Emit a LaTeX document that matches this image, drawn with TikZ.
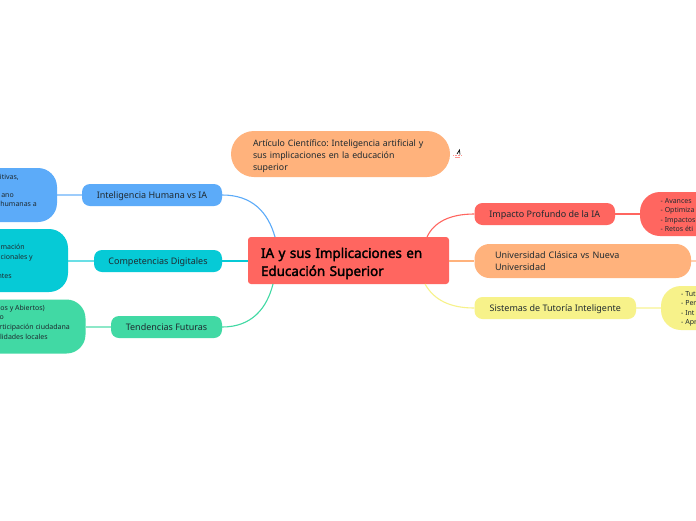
\documentclass[tikz,border=0pt]{standalone}
\usepackage{fontspec}
\setmainfont{Noto Sans}
\newfontfamily\rootfont{Noto Sans}[FakeBold=2.2]
\frenchspacing
\definecolor{cblue}{HTML}{5CABF9}
\definecolor{cteal}{HTML}{06CAD6}
\definecolor{cgreen}{HTML}{41D9A4}
\definecolor{corange}{HTML}{FFB27C}
\definecolor{cred}{HTML}{FF6660}
\definecolor{cyellow}{HTML}{F7F28A}
\definecolor{ink}{HTML}{1F2A30}
\tikzset{
 x=1pt,y=-1pt,
 boxbase/.style={inner ysep=0pt,text=ink,font=\frenchspacing\fontsize{9}{12}\selectfont,align=left},
 topic/.style={inner ysep=0pt,text=ink,font=\fontsize{9}{12}\selectfont,rounded corners=8pt,inner xsep=0pt,text height=6.5pt,text depth=0pt},
 leaf/.style={rounded corners=19pt,inner sep=0pt},
 leaftext/.style={text=ink,font=\fontsize{7}{9}\selectfont,inner sep=0pt},
 link/.style={line width=1.1pt},
 paler/.style={line width=1.6pt,opacity=.6},
}
\begin{document}
\begin{tikzpicture}
\useasboundingbox (0,0) rectangle (696,520);
\clip (0,0) rectangle (696,520);
\fill[white] (0,0) rectangle (696,520);
% leaf boxes
\node[leaf,fill=cblue,minimum width=157pt,minimum height=54pt] (lblue) at (-21.5,195) {};
\node[leaf,fill=cteal,minimum width=168pt,minimum height=63pt] (lteal) at (-16,260.5) {};
\node[leaf,fill=cgreen,minimum width=186pt,minimum height=54pt] (lgreen) at (-7.5,326.5) {};
\node[leaf,fill=cred,rounded corners=20pt,minimum width=160pt,minimum height=44pt] (lred) at (720,214) {};
\node[leaf,fill=cyellow,rounded corners=20pt,minimum width=120pt,minimum height=44pt] (lyellow) at (721,308) {};
% topics
\node[topic,fill=cblue,minimum width=140pt,minimum height=22pt] (tblue) at (152,195) {Inteligencia Humana vs IA};
\node[topic,fill=cteal,minimum width=128pt,minimum height=22pt] (tteal) at (158,261) {Competencias Digitales};
\node[topic,fill=cgreen,minimum width=111pt,minimum height=22pt] (tgreen) at (166.5,327) {Tendencias Futuras};
\node[topic,fill=cred,minimum width=140.5pt,minimum height=22pt] (tred) at (544.75,214) {Impacto Profundo de la IA};
\node[boxbase,fill=corange,rounded corners=15pt,inner xsep=20.5pt,text width=175.5pt,minimum height=34pt] (torange) at (582.75,261) {Universidad Clásica vs Nueva\\Universidad};
\node[topic,fill=cyellow,minimum width=161.5pt,minimum height=22pt] (tyellow) at (555.25,308) {Sistemas de Tutoría Inteligente};
% root and article
\node[boxbase,fill=cred,rounded corners=3pt,inner xsep=13pt,text width=175pt,minimum height=47pt,text=black,font=\fontsize{13.4}{18}\selectfont\rootfont] (root) at (348.5,260.5) {\rule{0pt}{16pt}IA y sus Implicaciones en\\Educación Superior};
\node[boxbase,fill=corange,rounded corners=23pt,inner xsep=22pt,text width=175pt,minimum height=46pt,font=\fontsize{8.8}{12.2}\selectfont] (article) at (340.5,154) {\rule{0pt}{10.7pt}Artículo Científico: Inteligencia artificial y\\sus implicaciones en la educación\\superior};
% anchor points on the root
\coordinate (rtl) at (275,237);
\coordinate (rbl) at (273,284);
\coordinate (rtr) at (427,237);
\coordinate (rbr) at (425,284);
\coordinate (lorangeedge) at (696,261);
% connectors
\draw[link,cblue] (tblue.east) .. controls (252,195) and (268,212) .. (rtl);
\draw[link,cgreen] (tgreen.east) .. controls (252,327) and (267,308) .. (rbl);
\draw[link,cred] (tred.west) .. controls (450,214) and (434,222) .. (rtr);
\draw[link,cyellow] (tyellow.west) .. controls (450,308) and (434,300) .. (rbr);
\draw[paler,cteal,opacity=1] (root.west |- tteal.east) -- (tteal.east);
\draw[paler,corange,opacity=1] (root.east |- torange.west) -- (torange.west);
\draw[paler,cblue] (lblue.east) -- (tblue.west);
\draw[paler,cteal] (lteal.east |- tteal.west) -- (tteal.west);
\draw[paler,cgreen] (lgreen.east |- tgreen.west) -- (tgreen.west);
\draw[link,cred] (tred.east) -- (lred.west);
\draw[paler,cyellow] (tyellow.east) -- (lyellow.west);
\draw[paler,corange] (torange.east) -- (lorangeedge);
% leaf texts: only what the reference shows inside the page
\node[leaftext,anchor=base east] (b1) at (19,179.5) {itivas,};
\node[leaftext,anchor=base east] (b2) at (14,197.5) {ano};
\node[leaftext,anchor=base east] (b3) at (37,206.5) {humanas a};
\node[leaftext,anchor=base east] (c1) at (25,249.5) {mación};
\node[leaftext,anchor=base east] (c2) at (33,259.5) {cionales y};
\node[leaftext,anchor=base east] (c3) at (12,278.5) {ntes};
\node[leaftext,anchor=base east] (d1) at (45,310.5) {os y Abiertos)};
\node[leaftext,anchor=base east] (d2) at (4,319.5) {o};
\node[leaftext,anchor=base east] (d3) at (70,329.5) {rticipación ciudadana};
\node[leaftext,anchor=base east] (d4) at (48,339.5) {lidades locales};
\node[leaftext,anchor=base west] (e1) at (660.5,203.5) {- Avances};
\node[leaftext,anchor=base west] (e2) at (660.5,212.5) {- Optimiza};
\node[leaftext,anchor=base west] (e3) at (660.5,222) {- Impactos};
\node[leaftext,anchor=base west] (e4) at (660.5,231) {- Retos éti};
\node[leaftext,anchor=base west] (f1) at (681,296.5) {- Tut};
\node[leaftext,anchor=base west] (f2) at (681,305.5) {- Per};
\node[leaftext,anchor=base west] (f3) at (681,315.5) {- Int};
\node[leaftext,anchor=base west] (f4) at (681,324.5) {- Apr};
% small icon
\draw[black,line width=.7pt] (457,154) -- (459.5,150) -- (460,154.5);
\draw[cred!70!white,line width=1pt,dash pattern=on 1pt off .6pt] (453,155.5) -- (461.5,155.5);
\draw[cred!70!white,line width=.5pt] (455,157) -- (460,157);
\end{tikzpicture}
\end{document}
